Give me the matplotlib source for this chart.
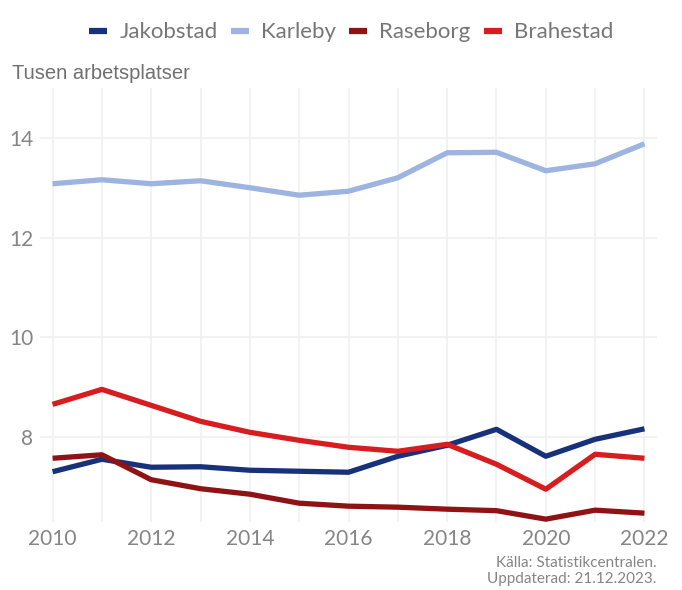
import matplotlib.pyplot as plt

years = list(range(2010, 2023))

jakobstad = [7.31, 7.56, 7.40, 7.41, 7.34, 7.32, 7.30, 7.62, 7.84, 8.16, 7.62, 7.96, 8.17]
karleby = [13.08, 13.16, 13.08, 13.14, 13.00, 12.85, 12.93, 13.20, 13.70, 13.71, 13.34, 13.48, 13.88]
raseborg = [7.58, 7.65, 7.15, 6.97, 6.86, 6.68, 6.62, 6.60, 6.56, 6.53, 6.36, 6.54, 6.48]
brahestad = [8.66, 8.96, 8.64, 8.32, 8.10, 7.94, 7.80, 7.72, 7.86, 7.46, 6.96, 7.66, 7.58]

series = [
    ('Jakobstad', jakobstad, '#17327a'),
    ('Karleby', karleby, '#9db4e1'),
    ('Raseborg', raseborg, '#8f1315'),
    ('Brahestad', brahestad, '#d71d1f'),
]

xticks = [2010, 2012, 2014, 2016, 2018, 2020, 2022]
yticks = [8, 10, 12, 14]

GREY = '#858585'
FONT = ['Lato', 'DejaVu Sans']

fig = plt.figure(figsize=(6.82, 5.90), dpi=100)
ax = fig.add_axes([0.059, 0.115, 0.904, 0.736])

for name, vals, col in series:
    ax.plot(years, vals, color=col, lw=3.8, label=name, solid_capstyle='butt')

ax.set_xlim(2009.75, 2022.25)
ax.set_ylim(6.3, 15.0)
ax.set_xticks(xticks)
ax.set_xticks(years, minor=True)
ax.set_yticks(yticks)
ax.grid(True, which='both', axis='x', color='#f0f0f0', lw=1.2)
ax.grid(True, which='major', axis='y', color='#f0f0f0', lw=1.2)
ax.set_axisbelow(True)
for s in ax.spines.values():
    s.set_visible(False)
ax.tick_params(which='both', length=0, colors=GREY, labelsize=15, pad=5)
for lab in ax.get_xticklabels() + ax.get_yticklabels():
    lab.set_family(FONT)

fig.text(0.018, 0.876, 'Tusen arbetsplatser', fontsize=14.5, color='#707070',
         family=['Liberation Sans', 'DejaVu Sans'], va='center')

leg = fig.legend(loc='center', bbox_to_anchor=(0.515, 0.945), ncol=4, frameon=False,
                 handlelength=0.8, handletextpad=0.55, columnspacing=0.6,
                 prop={'family': FONT, 'size': 16})
for t in leg.get_texts():
    t.set_color('#767676')
for h in leg.legend_handles:
    h.set_linewidth(4.5)

fig.text(0.963, 0.006, 'Källa: Statistikcentralen.\nUppdaterad: 21.12.2023.',
         ha='right', va='bottom', fontsize=11, color=GREY, family=FONT,
         linespacing=1.2)

fig.savefig('out.png', dpi=100)
